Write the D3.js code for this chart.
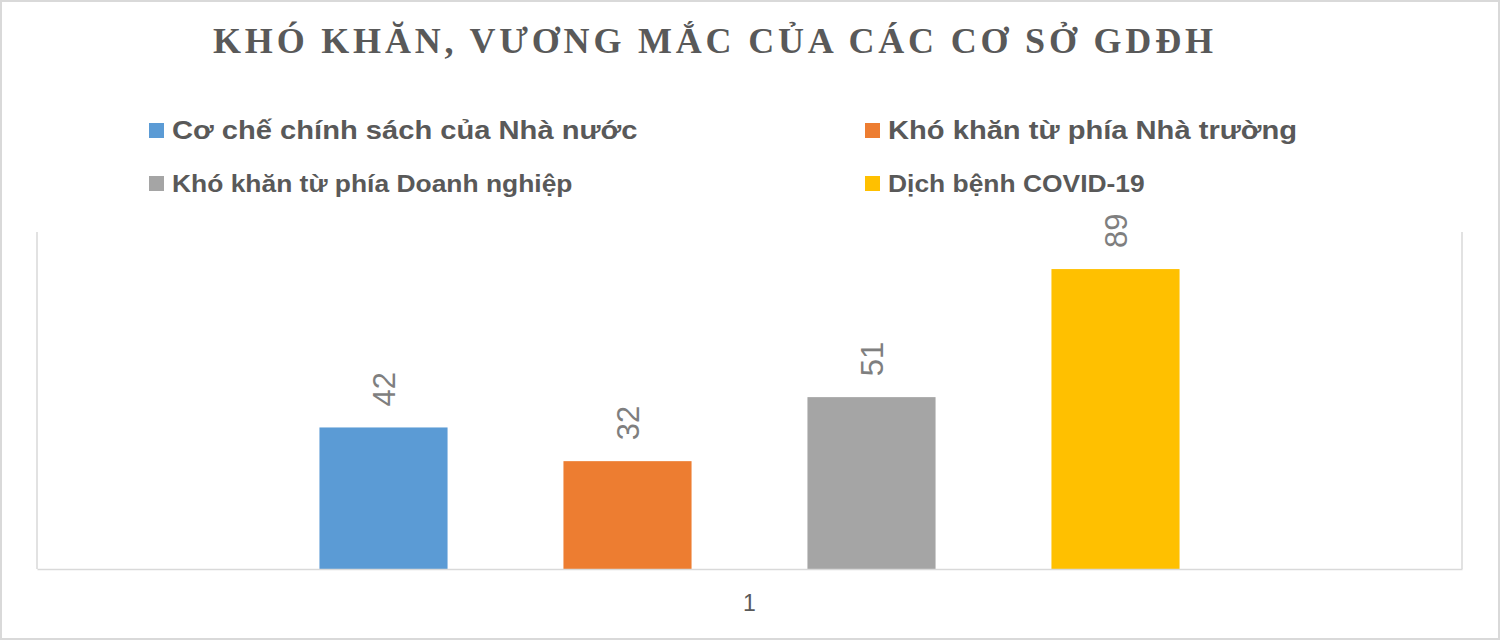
<!DOCTYPE html>
<html>
<head>
<meta charset="utf-8">
<script src="https://cdn.jsdelivr.net/npm/d3@7/dist/d3.min.js"></script>
<style>
  html, body { margin: 0; padding: 0; background: #fff; }
  svg { display: block; }
</style>
</head>
<body>
<svg id="chart" width="1500" height="640"></svg>
<script>
const title = "KHÓ KHĂN, VƯƠNG MẮC CỦA CÁC CƠ SỞ GDĐH";
const categories = ["1"];
const seriesNames = [
  "Cơ chế chính sách của Nhà nước",
  "Khó khăn từ phía Nhà trường",
  "Khó khăn từ phía Doanh nghiệp",
  "Dịch bệnh COVID-19"
];
const seriesValues = [42, 32, 51, 89];
const seriesColors = ["#5b9bd5", "#ed7d31", "#a5a5a5", "#ffc000"];
const yDomain = [0, 100];

const svg = d3.select("#chart");
const W = 1500, H = 640;
const plot = { left: 37, right: 1462, top: 232, bottom: 569 };

// outer border
svg.append("rect")
  .attr("x", 1).attr("y", 1).attr("width", W - 2).attr("height", H - 2)
  .attr("fill", "#fff").attr("stroke", "#d9d9d9").attr("stroke-width", 2);

// title
svg.append("text")
  .attr("x", 213).attr("y", 53)
  .attr("textLength", 1000).attr("lengthAdjust", "spacing")
  .attr("font-family", "'Liberation Serif', 'Times New Roman', serif")
  .attr("font-weight", "bold")
  .attr("font-size", 36)
  .attr("fill", "#595959")
  .text(title);

// scales
const x0 = d3.scaleBand().domain(categories).range([plot.left, plot.right]);
const cx = x0(categories[0]) + x0.bandwidth() / 2;
const x1 = d3.scaleBand().domain(seriesNames)
  .range([cx - 488, cx + 488]).paddingInner(0.475).paddingOuter(0.2375);
const y = d3.scaleLinear().domain(yDomain).range([plot.bottom, plot.top]);

// plot frame (left & right light lines)
const frame = svg.append("g").attr("stroke", "#d9d9d9").attr("stroke-width", 1.5);
frame.append("line").attr("x1", plot.left).attr("x2", plot.left).attr("y1", plot.top).attr("y2", plot.bottom);
frame.append("line").attr("x1", plot.right).attr("x2", plot.right).attr("y1", plot.top).attr("y2", plot.bottom);

// bars
const data = seriesNames.map((s, i) => ({ name: s, value: seriesValues[i], color: seriesColors[i] }));
svg.append("g").selectAll("rect").data(data).join("rect")
  .attr("x", d => x1(d.name))
  .attr("y", d => y(d.value))
  .attr("width", x1.bandwidth())
  .attr("height", d => y(0) - y(d.value))
  .attr("fill", d => d.color);

// value labels (rotated)
svg.append("g").selectAll("text").data(data).join("text")
  .attr("transform", d => `translate(${x1(d.name) + x1.bandwidth() / 2},${y(d.value) - 21}) rotate(-90)`)
  .attr("dy", "0.36em")
  .attr("text-anchor", "start")
  .attr("font-family", "'Liberation Sans', Arial, sans-serif")
  .attr("font-size", 31)
  .attr("fill", "#7f7f7f")
  .text(d => d.value);

// x axis
const xAxis = d3.axisBottom(x0).tickSize(0).tickPadding(0);
const gx = svg.append("g").attr("transform", `translate(0,${plot.bottom})`).call(xAxis);
gx.select(".domain").attr("stroke", "#d9d9d9").attr("stroke-width", 1.5);
gx.selectAll("text")
  .attr("y", 42)
  .attr("dy", 0)
  .attr("font-family", "'Liberation Sans', Arial, sans-serif")
  .attr("font-size", 23)
  .attr("fill", "#595959");

// legend
const legendPos = [
  { x: 149, y: 123, fs: 26, k: 1.12 }, { x: 865, y: 123, fs: 26, k: 1.12 },
  { x: 149, y: 176, fs: 24, k: 1.1 }, { x: 865, y: 176, fs: 24, k: 1.1 }
];
const lg = svg.append("g").selectAll("g").data(data).join("g")
  .attr("transform", (d, i) => `translate(${legendPos[i].x},${legendPos[i].y})`);
lg.append("rect").attr("width", 15).attr("height", 15).attr("fill", d => d.color);
lg.append("text")
  .attr("x", 23).attr("y", 16)
  .attr("font-family", "'Liberation Sans', Arial, sans-serif")
  .attr("font-weight", "bold")
  .attr("font-size", (d, i) => legendPos[i].fs)
  .attr("fill", "#595959")
  .text(d => d.name)
  .each(function (d, i) {
    const len = this.getComputedTextLength();
    d3.select(this).attr("textLength", len * legendPos[i].k).attr("lengthAdjust", "spacingAndGlyphs");
  });
</script>
</body>
</html>
